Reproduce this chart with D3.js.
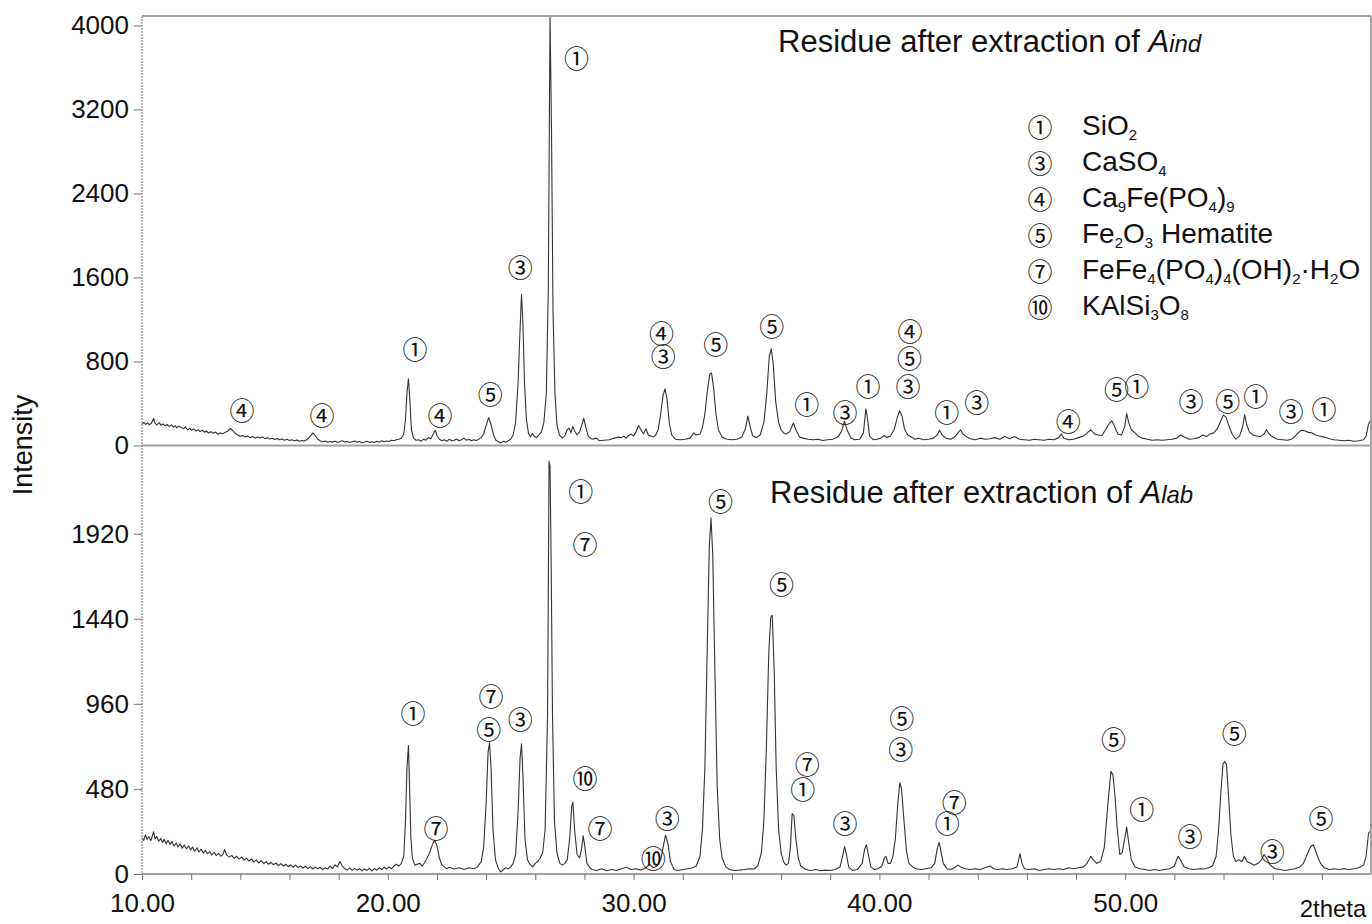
<!DOCTYPE html>
<html>
<head>
<meta charset="utf-8">
<script src="https://cdn.jsdelivr.net/npm/d3@7"></script>
<style>
body { margin: 0; background: #fff; }
text { font-family: "Liberation Sans", Arial, sans-serif; fill: #111; }
.mark { font-family: "Noto Sans CJK JP", "DejaVu Sans", sans-serif; }
</style>
</head>
<body>
<svg width="1372" height="924"></svg>
<script>
var svg = d3.select("svg");

// 2theta, intensity  (residue after extraction of A_ind)
var indPattern = [
  [10.0,205],[10.08,220],[10.15,200],[10.22,215],[10.3,198],[10.38,212],[10.47,258],[10.53,210],[10.6,196],[10.7,218],
  [10.78,192],[10.85,205],[10.95,188],[11.02,200],[11.1,182],[11.2,196],[11.28,175],[11.35,190],[11.42,168],[11.5,185],
  [11.6,172],[11.7,160],[11.76,178],[11.85,150],[11.95,162],[12.02,145],[12.1,158],[12.2,138],[12.3,150],[12.36,132],
  [12.45,146],[12.55,126],[12.62,138],[12.7,120],[12.8,132],[12.9,116],[13.0,128],[13.08,108],[13.18,120],[13.28,112],
  [13.38,124],[13.48,135],[13.6,162],[13.7,140],[13.8,115],[13.9,100],
  [14.0,85],[14.1,95],[14.2,80],[14.3,90],[14.4,75],[14.5,85],[14.6,70],[14.7,80],[14.8,72],[14.9,82],
  [15.0,65],[15.1,75],[15.2,62],[15.3,70],[15.4,58],[15.5,66],[15.6,55],[15.7,62],[15.8,50],[15.9,60],
  [16.0,48],[16.1,55],[16.2,45],[16.3,52],[16.4,40],[16.5,48],[16.6,42],[16.7,55],[16.8,75],[16.95,120],
  [17.05,95],[17.15,60],[17.25,45],[17.35,35],[17.45,42],[17.55,30],[17.65,38],[17.75,32],[17.85,40],[17.95,30],
  [18.05,36],[18.15,45],[18.25,32],[18.35,38],[18.45,28],[18.55,35],[18.65,42],[18.75,30],[18.85,38],[18.95,26],
  [19.05,34],[19.15,40],[19.25,30],[19.35,36],[19.45,28],[19.55,40],[19.65,32],[19.75,45],[19.85,35],[19.95,42],
  [20.05,38],[20.15,50],[20.25,45],[20.35,55],[20.45,60],[20.55,70],[20.65,110],[20.72,250],[20.78,500],[20.84,635],
  [20.9,420],[20.96,150],[21.05,70],[21.15,50],[21.25,55],[21.35,40],[21.45,60],[21.55,50],[21.65,75],[21.75,65],
  [21.85,110],[21.93,145],[22.0,95],[22.1,60],[22.2,45],[22.3,55],[22.4,40],[22.5,60],[22.6,45],[22.7,50],
  [22.8,62],[22.9,45],[23.0,55],[23.1,70],[23.2,50],[23.3,60],[23.4,45],[23.5,55],[23.6,48],[23.7,60],
  [23.8,75],[23.9,110],[24.0,190],[24.1,265],[24.2,200],[24.3,100],[24.4,50],[24.5,35],[24.6,25],[24.7,40],
  [24.8,30],[24.9,45],[25.0,60],[25.1,100],[25.2,220],[25.3,600],[25.38,1100],[25.44,1440],[25.5,1150],[25.56,600],
  [25.64,250],[25.72,120],[25.8,80],[25.88,115],[25.95,90],[26.05,75],[26.15,100],[26.25,130],[26.35,220],[26.45,500],
  [26.53,1500],[26.6,4080],[26.66,3000],[26.72,1300],[26.8,500],[26.88,200],[26.98,100],[27.1,70],[27.2,90],[27.3,150],
  [27.38,165],[27.45,120],[27.52,180],[27.6,140],[27.7,100],[27.8,130],[27.9,200],[27.97,260],[28.05,180],[28.15,90],
  [28.3,60],[28.5,70],[28.6,45],[28.8,50],[29.0,55],[29.2,70],[29.4,80],[29.5,75],[29.6,90],[29.7,70],
  [29.8,95],[29.9,110],[30.0,90],[30.1,130],[30.2,190],[30.3,150],[30.4,110],[30.5,160],[30.6,100],[30.7,90],
  [30.8,80],[30.9,100],[31.0,150],[31.1,300],[31.2,480],[31.28,540],[31.36,440],[31.45,220],[31.55,100],[31.7,60],
  [31.9,55],[32.1,60],[32.3,70],[32.45,120],[32.55,100],[32.7,110],[32.8,170],[32.9,300],[33.0,520],[33.1,680],
  [33.17,690],[33.25,560],[33.35,300],[33.45,150],[33.6,80],[33.8,60],[34.0,55],[34.2,60],[34.4,80],[34.55,160],
  [34.65,280],[34.75,170],[34.85,90],[35.0,75],[35.15,100],[35.3,220],[35.42,500],[35.52,850],[35.6,920],[35.68,780],
  [35.78,420],[35.9,220],[36.0,150],[36.1,120],[36.2,110],[36.35,130],[36.5,215],[36.6,150],[36.75,80],[36.9,70],
  [37.1,60],[37.3,55],[37.5,60],[37.7,48],[37.9,55],[38.1,60],[38.3,80],[38.45,130],[38.58,230],[38.7,140],
  [38.85,70],[39.0,55],[39.2,60],[39.35,120],[39.45,350],[39.52,250],[39.6,90],[39.75,55],[39.9,60],[40.05,70],
  [40.2,95],[40.3,75],[40.45,90],[40.6,150],[40.72,260],[40.82,330],[40.92,280],[41.02,160],[41.15,100],[41.3,80],
  [41.45,60],[41.6,70],[41.8,55],[42.0,60],[42.2,70],[42.35,100],[42.45,145],[42.55,100],[42.7,70],[42.9,60],
  [43.05,80],[43.2,120],[43.3,150],[43.4,110],[43.55,80],[43.7,65],[43.9,55],[44.1,70],[44.3,60],[44.5,65],
  [44.7,75],[44.9,60],[45.1,85],[45.3,65],[45.5,85],[45.7,60],[45.9,55],[46.1,50],[46.3,60],[46.5,55],
  [46.7,50],[46.9,60],[47.1,55],[47.3,75],[47.4,110],[47.5,70],[47.7,55],[47.9,60],[48.1,75],[48.3,90],
  [48.45,120],[48.6,150],[48.75,110],[48.9,100],[49.05,95],[49.2,150],[49.35,210],[49.45,235],[49.55,190],[49.7,110],
  [49.85,100],[49.98,180],[50.06,305],[50.14,220],[50.25,150],[50.4,120],[50.55,85],[50.7,70],[50.9,60],[51.1,50],
  [51.3,55],[51.5,50],[51.7,55],[51.9,60],[52.1,70],[52.25,100],[52.4,80],[52.6,60],[52.8,65],[53.0,75],
  [53.15,100],[53.3,85],[53.45,110],[53.6,120],[53.75,160],[53.9,240],[54.0,290],[54.1,270],[54.2,200],[54.35,110],
  [54.5,60],[54.65,90],[54.78,180],[54.86,295],[54.94,200],[55.05,130],[55.2,100],[55.35,90],[55.5,85],[55.65,110],
  [55.75,150],[55.85,110],[56.0,80],[56.2,60],[56.4,55],[56.6,50],[56.8,65],[57.0,110],[57.15,145],[57.3,140],
  [57.45,125],[57.6,120],[57.75,100],[57.9,90],[58.1,80],[58.3,65],[58.5,55],[58.7,50],[58.9,45],[59.1,50],
  [59.3,40],[59.5,45],[59.7,55],[59.8,90],[59.9,205],[59.96,230]
];

// 2theta, intensity  (residue after extraction of A_lab)
var labPattern = [
  [10.0,205],[10.07,190],[10.14,222],[10.2,196],[10.28,210],[10.36,188],[10.47,238],[10.53,198],[10.6,212],[10.68,185],
  [10.76,200],[10.84,178],[10.9,196],[10.98,170],[11.06,190],[11.14,166],[11.22,184],[11.3,158],[11.4,176],[11.46,152],
  [11.55,170],[11.64,146],[11.72,164],[11.8,142],[11.9,158],[11.98,136],[12.06,152],[12.14,128],[12.24,148],[12.32,124],
  [12.4,140],[12.5,118],[12.58,134],[12.66,114],[12.76,126],[12.84,108],[12.94,122],[13.02,104],[13.12,116],[13.2,100],
  [13.3,112],[13.36,138],[13.44,108],[13.55,95],[13.65,105],[13.75,88],[13.85,100],
  [13.95,85],[14.05,95],[14.15,78],[14.25,90],[14.35,72],[14.45,85],[14.55,68],[14.65,80],[14.75,62],[14.85,75],
  [14.95,58],[15.05,70],[15.15,55],[15.25,66],[15.35,52],[15.45,62],[15.55,48],[15.65,58],[15.75,45],[15.85,55],
  [15.95,42],[16.05,52],[16.15,38],[16.25,50],[16.35,36],[16.45,46],[16.55,34],[16.65,44],[16.75,30],[16.85,42],
  [16.95,28],[17.05,40],[17.15,30],[17.25,38],[17.35,25],[17.45,35],[17.55,28],[17.65,45],[17.75,30],[17.85,52],
  [17.95,40],[18.05,70],[18.15,45],[18.25,30],[18.35,22],[18.45,35],[18.55,20],[18.65,32],[18.75,22],[18.85,30],
  [18.95,18],[19.05,28],[19.15,20],[19.25,32],[19.35,18],[19.45,30],[19.55,22],[19.65,35],[19.75,25],[19.85,38],
  [19.95,28],[20.05,40],[20.15,30],[20.25,45],[20.35,55],[20.45,45],[20.55,60],[20.65,100],[20.72,300],[20.78,600],
  [20.84,725],[20.88,520],[20.94,200],[21.0,90],[21.1,50],[21.2,55],[21.3,60],[21.4,45],[21.5,65],[21.6,90],
  [21.7,120],[21.8,160],[21.9,190],[22.0,160],[22.1,90],[22.2,50],[22.3,40],[22.4,30],[22.5,38],[22.7,28],
  [22.9,35],[23.1,25],[23.3,35],[23.5,30],[23.65,40],[23.8,70],[23.9,150],[24.0,400],[24.08,690],[24.14,740],
  [24.2,600],[24.28,250],[24.38,80],[24.5,30],[24.6,12],[24.7,25],[24.8,35],[24.9,30],[25.0,40],[25.1,60],
  [25.2,110],[25.3,350],[25.38,650],[25.44,735],[25.5,550],[25.58,200],[25.68,80],[25.8,50],[25.9,40],[26.0,60],
  [26.1,70],[26.2,90],[26.3,120],[26.4,250],[26.5,900],[26.56,2330],[26.6,2300],[26.65,1700],[26.7,900],[26.78,300],
  [26.88,120],[27.0,60],[27.1,50],[27.2,60],[27.3,80],[27.4,200],[27.48,380],[27.53,405],[27.6,250],[27.7,110],
  [27.8,90],[27.88,140],[27.95,215],[28.02,150],[28.1,60],[28.2,40],[28.3,25],[28.5,20],[28.7,30],[28.9,18],
  [29.1,25],[29.3,20],[29.5,30],[29.7,38],[29.9,25],[30.1,30],[30.3,22],[30.5,35],[30.65,55],[30.8,35],
  [30.95,45],[31.1,80],[31.2,150],[31.3,220],[31.4,170],[31.5,70],[31.65,25],[31.8,20],[32.0,25],[32.2,30],
  [32.4,35],[32.55,45],[32.7,100],[32.8,250],[32.9,600],[33.0,1300],[33.08,1850],[33.15,2010],[33.22,1800],[33.3,1200],
  [33.4,500],[33.5,200],[33.6,90],[33.75,40],[33.9,25],[34.1,20],[34.3,22],[34.5,25],[34.7,30],[34.9,28],
  [35.05,45],[35.2,120],[35.3,300],[35.4,700],[35.5,1250],[35.58,1450],[35.64,1460],[35.72,1150],[35.8,600],[35.9,250],
  [36.0,120],[36.1,70],[36.2,50],[36.3,60],[36.38,150],[36.45,340],[36.52,330],[36.6,200],[36.7,90],[36.8,45],
  [37.0,25],[37.2,20],[37.4,25],[37.6,18],[37.8,22],[38.0,20],[38.2,25],[38.4,40],[38.5,100],[38.58,155],
  [38.66,110],[38.75,40],[38.9,20],[39.1,25],[39.3,60],[39.4,140],[39.47,165],[39.55,110],[39.65,40],[39.8,25],
  [39.95,30],[40.1,45],[40.2,90],[40.27,100],[40.35,60],[40.45,60],[40.55,100],[40.65,200],[40.75,400],[40.83,515],
  [40.9,480],[41.0,300],[41.1,130],[41.2,60],[41.35,40],[41.5,30],[41.7,25],[41.9,30],[42.1,35],[42.25,60],
  [42.35,140],[42.43,178],[42.5,130],[42.6,60],[42.75,30],[42.9,25],[43.05,35],[43.2,50],[43.3,40],[43.5,30],
  [43.7,25],[43.9,30],[44.1,25],[44.3,35],[44.5,45],[44.65,30],[44.8,25],[45.0,30],[45.2,25],[45.4,30],
  [45.6,40],[45.72,115],[45.8,60],[45.9,30],[46.1,25],[46.3,30],[46.5,20],[46.7,25],[46.9,30],[47.1,25],
  [47.3,30],[47.5,25],[47.7,35],[47.9,30],[48.1,35],[48.3,40],[48.45,60],[48.6,100],[48.7,80],[48.85,60],
  [49.0,70],[49.15,150],[49.3,400],[49.42,580],[49.5,560],[49.58,450],[49.68,250],[49.78,110],[49.88,120],[49.98,200],
  [50.06,265],[50.14,180],[50.25,80],[50.4,40],[50.6,30],[50.8,25],[51.0,20],[51.2,25],[51.4,20],[51.6,25],
  [51.8,30],[52.0,45],[52.15,100],[52.25,80],[52.4,40],[52.6,30],[52.8,25],[53.0,30],[53.2,28],[53.4,35],
  [53.55,45],[53.7,100],[53.8,250],[53.9,480],[53.98,620],[54.05,635],[54.12,620],[54.2,450],[54.3,220],[54.4,100],
  [54.5,70],[54.6,80],[54.75,70],[54.85,100],[54.95,70],[55.1,60],[55.25,50],[55.4,60],[55.55,80],[55.65,110],
  [55.75,90],[55.9,50],[56.1,30],[56.3,25],[56.5,20],[56.7,25],[56.9,30],[57.1,40],[57.25,60],[57.4,110],
  [57.55,155],[57.65,165],[57.75,130],[57.85,90],[57.95,60],[58.1,35],[58.3,25],[58.5,30],[58.7,25],[58.9,30],
  [59.1,25],[59.3,30],[59.5,35],[59.7,50],[59.8,100],[59.9,230],[59.96,240]
];

// phase markers: 2theta, intensity, mark
var indMarks = [
  [14.07,345,"④"],[17.32,297,"④"],[21.11,928,"①"],[22.12,297,"④"],[24.17,503,"⑤"],[25.39,1712,"③"],
  [27.68,3701,"①"],[31.14,1083,"④"],[31.21,862,"③"],[33.34,973,"⑤"],[35.62,1147,"⑤"],[37.04,407,"①"],
  [38.60,331,"③"],[39.54,576,"①"],[41.25,1099,"④"],[41.22,845,"⑤"],[41.16,576,"③"],[42.74,331,"①"],
  [43.96,426,"③"],[47.68,243,"④"],[49.65,545,"⑤"],[50.47,576,"①"],[52.68,433,"③"],[54.17,433,"⑤"],
  [55.31,481,"①"],[56.75,338,"③"],[58.09,354,"①"]
];
var labMarks = [
  [21.03,914,"①"],[21.96,266,"⑦"],[24.20,1010,"⑦"],[24.11,822,"⑤"],[25.39,879,"③"],[27.85,2167,"①"],
  [28.02,1866,"⑦"],[28.02,549,"⑩"],[28.63,267,"⑦"],[30.80,98,"⑩"],[31.37,320,"③"],[33.54,2111,"⑤"],
  [36.02,1641,"⑤"],[37.07,625,"⑦"],[36.88,484,"①"],[38.60,295,"③"],[40.91,884,"⑤"],[40.87,709,"③"],
  [43.05,414,"⑦"],[42.76,295,"①"],[49.52,766,"⑤"],[50.67,371,"①"],[52.64,220,"③"],[54.44,803,"⑤"],
  [55.98,135,"③"],[57.97,320,"⑤"]
];

var legendMarks = ["①","③","④","⑤","⑦","⑩"];
var legendNames = ["SiO_2","CaSO_4","Ca_9Fe(PO_4)_9","Fe_2O_3 Hematite","FeFe_4(PO_4)_4(OH)_2·H_2O","KAlSi_3O_8"];

var xTicks = [10,12,14,16,18,20,22,24,26,28,30,32,34,36,38,40,42,44,46,48,50,52,54,56,58];
var xLabelled = [10,20,30,40,50];
var indTicks = [0,800,1600,2400,3200,4000];
var labTicks = [0,480,960,1440,1920];

var x = d3.scaleLinear().domain([10,60]).range([142,1371]);
var yInd = d3.scaleLinear().domain([0,4090]).range([445.5,16]);
var yLab = d3.scaleLinear().domain([0,2415]).range([874,446]);

svg.append("rect").attr("width",1372).attr("height",924).attr("fill","#fff");

svg.append("defs").append("clipPath").attr("id","clip")
  .append("rect").attr("x",142).attr("y",16).attr("width",1229).attr("height",858);

// patterns
function drawPattern(data, y) {
  var line = d3.line().x(function(d){ return x(d[0]); }).y(function(d){ return y(d[1]); });
  svg.append("path").datum(data)
    .attr("clip-path","url(#clip)")
    .attr("d", line)
    .attr("fill","none")
    .attr("stroke","#333")
    .attr("stroke-width",1.1)
    .attr("stroke-linejoin","round");
}
drawPattern(indPattern, yInd);
drawPattern(labPattern, yLab);

// frame
var frame = svg.append("g").attr("stroke","#a0a0a0").attr("stroke-width",2).attr("fill","none");
frame.append("line").attr("x1",142).attr("x2",1371).attr("y1",16).attr("y2",16);
frame.append("line").attr("x1",142).attr("x2",1371).attr("y1",yInd(0)).attr("y2",yInd(0));
frame.append("line").attr("x1",142).attr("x2",1371).attr("y1",yLab(0)).attr("y2",yLab(0));
frame.append("line").attr("x1",1371).attr("x2",1371).attr("y1",16).attr("y2",874);
frame.append("line").attr("x1",142).attr("x2",142).attr("y1",16).attr("y2",874)
  .attr("stroke-width",1.5).attr("stroke-dasharray","2,1");

// y axes
function yAxis(scale, ticks) {
  var g = svg.append("g").attr("transform","translate(142,0)")
    .call(d3.axisLeft(scale).tickValues(ticks).tickSize(8).tickPadding(5).tickFormat(d3.format("d")));
  g.select(".domain").remove();
  g.selectAll(".tick line").attr("stroke","#777");
  g.selectAll(".tick text").attr("font-size",26).attr("font-family","Liberation Sans, Arial, sans-serif").attr("fill","#111");
}
yAxis(yInd, indTicks);
yAxis(yLab, labTicks);

// x axis
var gx = svg.append("g").attr("transform","translate(0," + yLab(0) + ")")
  .call(d3.axisBottom(x).tickValues(xTicks).tickSize(6).tickPadding(14)
    .tickFormat(function(d){ return xLabelled.indexOf(d) >= 0 ? d3.format(".2f")(d) : ""; }));
gx.select(".domain").remove();
gx.selectAll(".tick line").attr("stroke","#777");
gx.selectAll(".tick text").attr("font-size",26).attr("font-family","Liberation Sans, Arial, sans-serif").attr("fill","#111");

svg.append("text").attr("x",1333).attr("y",917).attr("text-anchor","middle")
  .attr("font-size",24).text("2theta");

svg.append("text").attr("transform","translate(32,445) rotate(-90)")
  .attr("text-anchor","middle").attr("font-size",27).text("Intensity");

// phase marks
function drawMarks(data, y) {
  svg.append("g").selectAll("text").data(data).enter().append("text")
    .attr("class","mark")
    .attr("x", function(d){ return x(d[0]); })
    .attr("y", function(d){ return y(d[1]); })
    .attr("text-anchor","middle")
    .attr("dominant-baseline","central")
    .attr("font-size",25)
    .text(function(d){ return d[2]; });
}
drawMarks(indMarks, yInd);
drawMarks(labMarks, yLab);

// titles
function title(tx, ty, sub) {
  var t = svg.append("text").attr("x",tx).attr("y",ty).attr("font-size",31);
  t.append("tspan").text("Residue after extraction of ");
  t.append("tspan").attr("font-style","italic").text("A");
  t.append("tspan").attr("font-style","italic").attr("font-size",24).text(sub);
}
title(778, 52, "ind");
title(770, 503, "lab");

// legend
var leg = svg.append("g");
legendNames.forEach(function(name, i) {
  var yy = 135 + i * 36;
  leg.append("text").attr("class","mark").attr("x",1040).attr("y",yy - 9)
    .attr("text-anchor","middle").attr("dominant-baseline","central")
    .attr("font-size",25).text(legendMarks[i]);
  var t = leg.append("text").attr("x",1082).attr("y",yy).attr("font-size",28);
  var parts = name.split(/_(\d)/);
  var lowered = false;
  parts.forEach(function(p, k) {
    if (p === "") return;
    var s = t.append("tspan").text(p);
    if (k % 2 === 1) {
      s.attr("font-size",15).attr("dy", lowered ? 0 : 5);
      lowered = true;
    } else if (lowered) {
      s.attr("dy",-5);
      lowered = false;
    }
  });
});
</script>
</body>
</html>
